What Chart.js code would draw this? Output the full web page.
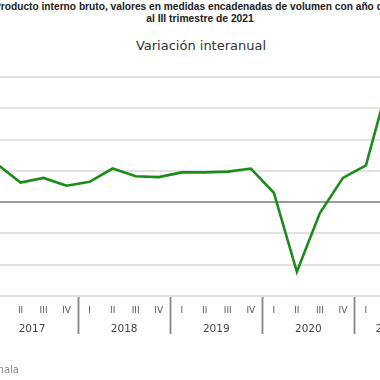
<!DOCTYPE html>
<html><head><meta charset="utf-8">
<script src="https://cdn.jsdelivr.net/npm/chart.js@4/dist/chart.umd.min.js"></script>
<style>
html,body{margin:0;padding:0;width:380px;height:380px;overflow:hidden;background:#fff;position:relative}
#wrap{position:absolute;left:-114px;top:0;width:560px;height:380px}
.t{position:absolute;white-space:nowrap}
</style></head><body>
<div class="t" style="left:-6px;top:1px;font:bold 10.2px 'Liberation Sans',sans-serif;color:#222">Producto interno bruto, valores en medidas encadenadas de volumen con año de referencia 2013</div>
<div class="t" style="left:0;width:400px;text-align:center;top:13px;font:bold 10.3px 'Liberation Sans',sans-serif;color:#222">al III trimestre de 2021</div>
<div class="t" style="left:0;width:402px;text-align:center;top:38px;font:13px 'DejaVu Sans',sans-serif;color:#333">Variación interanual</div>
<div id="wrap"><canvas id="c" width="560" height="380" style="width:560px;height:380px"></canvas></div>
<div class="t" style="right:361px;top:364px;font:10px 'DejaVu Sans',sans-serif;color:#888">Fuente: Banco de Guatemala</div>
<script>
const years = ['2017','2018','2019','2020','2021'];
const quarterLabels = ['I','II','III','IV','I','II','III','IV','I','II','III','IV','I','II','III','IV','I','II','III'];
const yearOfPoint = ['2017','2017','2017','2017','2018','2018','2018','2018','2019','2019','2019','2019','2020','2020','2020','2020','2021','2021','2021'];
const variacion = [4.8,2.5,3.1,2.1, 2.6,4.3,3.3,3.2, 3.8,3.8,3.9,4.3, 1.2,-8.9,-1.4,3.1, 4.7,15.5,5.9];
const yMin = -12, yMax = 16, yStep = 4;

const yearGroups = {
  id:'yearGroups',
  afterDraw(chart){
    const {ctx, chartArea} = chart;
    const x = chart.scales.x;
    const half = (x.getPixelForValue(1) - x.getPixelForValue(0)) / 2;
    ctx.save();
    ctx.strokeStyle = '#8a8a8a';
    ctx.lineWidth = 1.5;
    ctx.fillStyle = '#444';
    ctx.font = "10.5px 'DejaVu Sans', sans-serif";
    ctx.textAlign = 'center';
    ctx.textBaseline = 'middle';
    years.forEach(yr => {
      const idx = yearOfPoint.map((v,i)=>v===yr?i:-1).filter(i=>i>=0);
      const first = idx[0], last = idx[idx.length-1];
      const xl = x.getPixelForValue(first) - half;
      const xr = x.getPixelForValue(last) + half;
      [xl, xr].forEach(px => {
        ctx.beginPath();
        ctx.moveTo(Math.round(px)+0.5, chartArea.bottom + 1);
        ctx.lineTo(Math.round(px)+0.5, chartArea.bottom + 38);
        ctx.stroke();
      });
      ctx.fillText(yr, (x.getPixelForValue(first) + x.getPixelForValue(last)) / 2, chartArea.bottom + 33);
    });
    ctx.restore();
  }
};

new Chart(document.getElementById('c'), {
  type:'line',
  data:{
    labels: quarterLabels,
    datasets:[{
      data: variacion,
      borderColor:'#1a8c1a',
      borderWidth:2.6,
      pointRadius:0,
      tension:0,
      fill:false
    }]
  },
  options:{
    responsive:false,
    animation:false,
    layout:{padding:{left:100, right:22.5, top:77, bottom:0}},
    plugins:{legend:{display:false}, tooltip:{enabled:false}},
    scales:{
      x:{
        offset:true,
        grid:{display:false, drawTicks:false},
        border:{display:false},
        ticks:{color:'#555', font:{family:"'DejaVu Sans', sans-serif", size:9}, padding:9, maxRotation:0, autoSkip:false},
        afterFit(s){ s.height = 84; }
      },
      y:{
        min:yMin, max:yMax,
        border:{display:false},
        grid:{
          drawTicks:false,
          color: c => c.tick.value === 0 ? '#9a9a9a' : '#e2e2e2',
          lineWidth: 2
        },
        ticks:{display:false, stepSize:yStep},
        afterFit(s){ s.width = 0; }
      }
    }
  },
  plugins:[yearGroups]
});
</script>
</body></html>
